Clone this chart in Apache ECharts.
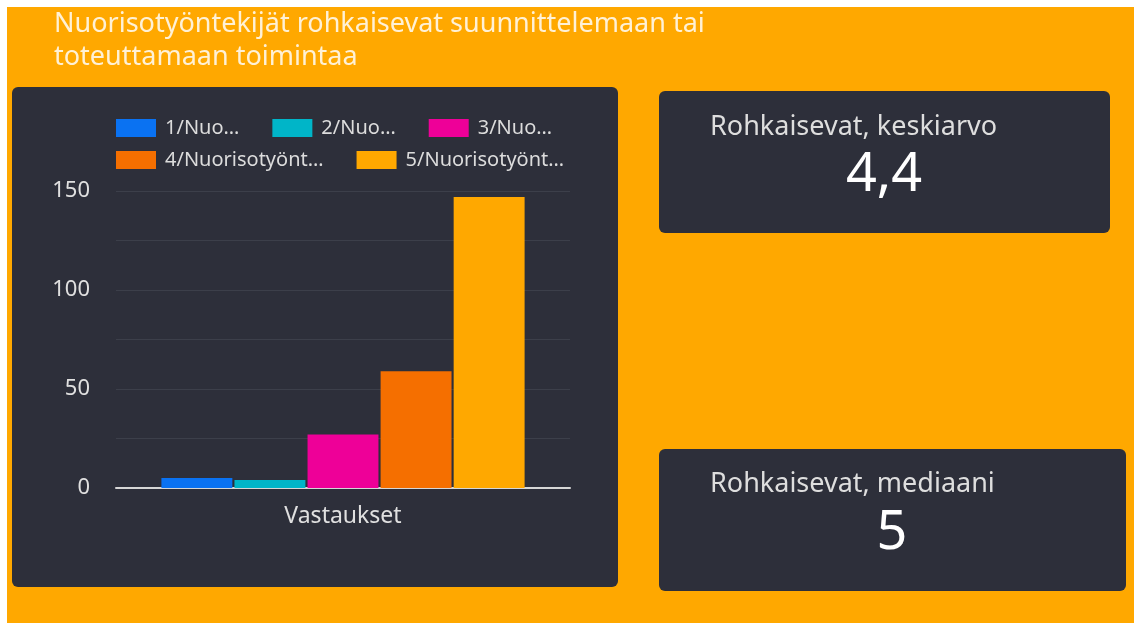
<!DOCTYPE html>
<html>
<head>
<meta charset="utf-8">
<script src="https://cdn.jsdelivr.net/npm/echarts@6/dist/echarts.min.js"></script>
<style>
  html, body { margin: 0; padding: 0; background: #fff; }
  #main { width: 1134px; height: 623px; }
</style>
</head>
<body>
<div id="main"></div>
<script>
var categories = ['Vastaukset'];
var seriesNames = ['1/Nuo…', '2/Nuo…', '3/Nuo…', '4/Nuorisotyönt…', '5/Nuorisotyönt…'];
var seriesValues = [5, 4, 27, 59, 147];
var seriesColors = ['#0a72f2', '#00b5c8', '#ee0098', '#f56f00', '#ffa800'];
var yTicks = [0, 50, 100, 150];
var titleLines = ['Nuorisotyöntekijät rohkaisevat suunnittelemaan tai', 'toteuttamaan toimintaa'];
var kpiLabels = ['Rohkaisevat, keskiarvo', 'Rohkaisevat, mediaani'];
var kpiValues = ['4,4', '5'];

var FONT = 'Noto Sans';
var dark = '#2d2f3a';

var myChart = echarts.init(document.getElementById('main'));

var series = [];
for (var i = 0; i < seriesNames.length; i++) {
    series.push({
        name: seriesNames[i],
        type: 'bar',
        data: [seriesValues[i]],
        itemStyle: { color: seriesColors[i] },
        barGap: '3%',
        barCategoryGap: '20%'
    });
}

var legendBase = {
    left: 116,
    orient: 'horizontal',
    padding: 0,
    itemGap: 33,
    itemWidth: 40,
    itemHeight: 18,
    icon: 'rect',
    textStyle: { color: '#dcdcdc', fontSize: 20, fontFamily: FONT, padding: [0, 0, 0, 4] }
};

var option = {
    backgroundColor: '#ffffff',
    animation: false,
    textStyle: { fontFamily: FONT },
    graphic: [
        // orange page + panels
        { type: 'rect', z: -10, shape: { x: 7, y: 7, width: 1127, height: 616 }, style: { fill: '#ffa800' } },
        { type: 'rect', z: -9, shape: { x: 12, y: 87, width: 606, height: 500, r: 6 }, style: { fill: dark } },
        { type: 'rect', z: -9, shape: { x: 659, y: 91, width: 451, height: 142, r: 6 }, style: { fill: dark } },
        { type: 'rect', z: -9, shape: { x: 659, y: 449, width: 467, height: 142, r: 6 }, style: { fill: dark } },
        {
            type: 'text', z: -8, x: 54, y: 8,
            style: {
                text: titleLines.join('\n'), fill: '#fff1d6',
                font: '27px "Noto Sans"', lineHeight: 33, verticalAlign: 'top'
            }
        },
        { type: 'text', z: -8, x: 710, y: 127, style: { text: kpiLabels[0], fill: '#dedede', font: '27px "Noto Sans"', verticalAlign: 'middle' } },
        { type: 'text', z: -8, x: 884, y: 176, style: { text: kpiValues[0], fill: '#ffffff', font: '54px "Noto Sans"', align: 'center', verticalAlign: 'middle' } },
        { type: 'text', z: -8, x: 710, y: 484, style: { text: kpiLabels[1], fill: '#dedede', font: '27px "Noto Sans"', verticalAlign: 'middle' } },
        { type: 'text', z: -8, x: 892, y: 534, style: { text: kpiValues[1], fill: '#ffffff', font: '54px "Noto Sans"', align: 'center', verticalAlign: 'middle' } }
    ],
    legend: [
        Object.assign({ top: 118, data: seriesNames.slice(0, 3) }, legendBase),
        Object.assign({ top: 150, data: seriesNames.slice(3) }, legendBase)
    ],
    grid: { left: 116, right: 564, top: 191, bottom: 135 },
    xAxis: {
        type: 'category',
        data: categories,
        axisLine: { lineStyle: { color: '#d6d6d6', width: 2 } },
        axisTick: { show: false },
        axisLabel: { color: '#e0e0e0', fontSize: 23, margin: 17, fontFamily: FONT }
    },
    yAxis: {
        type: 'value',
        min: 0,
        max: 150,
        interval: 25,
        axisLine: { show: false },
        axisTick: { show: false },
        splitLine: { lineStyle: { color: '#3c3f4a', width: 1 } },
        axisLabel: {
            color: '#e0e0e0', fontSize: 22, margin: 26, fontFamily: FONT,
            formatter: function (v) { return yTicks.indexOf(v) >= 0 ? String(v) : ''; }
        }
    },
    series: series
};

option && myChart.setOption(option);
</script>
</body>
</html>
